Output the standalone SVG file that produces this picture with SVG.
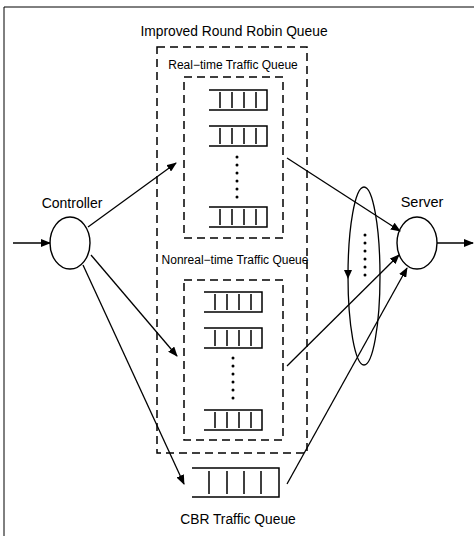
<svg xmlns="http://www.w3.org/2000/svg" width="474" height="536" viewBox="0 0 474 536">
<style>
text{font-family:"Liberation Sans",Arial,sans-serif;fill:#000}
.dash{fill:none;stroke:#000;stroke-width:1.5;stroke-dasharray:8 5}
.q{fill:none;stroke:#000;stroke-width:1.5}
.dot{fill:#000}
.c{fill:#fff;stroke:#000;stroke-width:1.4}
.ln{fill:none;stroke:#000;stroke-width:1.3;marker-end:url(#ah)}
</style>
<defs>
<marker id="ah" markerWidth="10" markerHeight="8" refX="9" refY="4" orient="auto" markerUnits="userSpaceOnUse">
<path d="M0,0 L10,4 L0,8 Z" fill="#000"/>
</marker>
<g id="q4">
<path class="q" d="M0,0 H58 V20 H0"/>
<path class="q" d="M11,2 V18 M23,2 V18 M35,2 V18 M47,2 V18"/>
</g>
<g id="dots">
<circle class="dot" cx="0" cy="0" r="1.5"/>
<circle class="dot" cx="0" cy="8" r="1.5"/>
<circle class="dot" cx="0" cy="16" r="1.5"/>
<circle class="dot" cx="0" cy="24" r="1.5"/>
<circle class="dot" cx="0" cy="32" r="1.5"/>
<circle class="dot" cx="0" cy="40" r="1.5"/>
</g>
</defs>
<rect width="474" height="536" fill="#fff"/>
<path d="M4,540 V7 H480" fill="none" stroke="#000" stroke-width="1"/>

<g id="improved-rr">
<rect class="dash" x="157" y="47" width="150" height="406"/>
<text x="234" y="36" font-size="13.8" text-anchor="middle">Improved Round Robin Queue</text>
</g>

<g id="realtime">
<text x="233" y="69" font-size="12" text-anchor="middle">Real−time Traffic Queue</text>
<rect class="dash" x="184" y="77" width="99" height="161"/>
<use href="#q4" x="209" y="90"/>
<use href="#q4" x="209" y="126"/>
<use href="#dots" x="237" y="157"/>
<use href="#q4" x="209" y="207"/>
</g>

<g id="nonrealtime">
<text x="235" y="264" font-size="12" text-anchor="middle">Nonreal−time Traffic Queue</text>
<rect class="dash" x="184" y="280" width="99" height="160"/>
<use href="#q4" x="204" y="292"/>
<use href="#q4" x="204" y="328"/>
<use href="#dots" x="233" y="358"/>
<use href="#q4" x="204" y="410"/>
</g>

<g id="cbr">
<path class="q" d="M192,468 H279 V497 H192"/>
<path class="q" d="M209,471 V494 M227,471 V494 M244,471 V494 M261,471 V494"/>
<text x="238" y="524" font-size="13.8" text-anchor="middle">CBR Traffic Queue</text>
</g>

<g id="controller">
<ellipse class="c" cx="70" cy="243" rx="20" ry="26"/>
<text x="72" y="208" font-size="14" text-anchor="middle">Controller</text>
</g>

<g id="server">
<ellipse class="c" cx="417" cy="243" rx="20" ry="26"/>
<text x="422" y="207" font-size="14.5" text-anchor="middle">Server</text>
</g>

<g id="selector">
<ellipse cx="364" cy="276" rx="16" ry="89" fill="none" stroke="#000" stroke-width="1.3"/>
<path d="M344,270 L348,279 L352,270 Z" fill="#000"/>
<use href="#dots" x="365" y="235"/>
</g>

<g id="connectors">
<line class="ln" x1="13" y1="243" x2="50" y2="243"/>
<line class="ln" x1="437" y1="243" x2="473" y2="243"/>
<line class="ln" x1="88" y1="227" x2="176" y2="163"/>
<line class="ln" x1="91" y1="255" x2="177" y2="356"/>
<line class="ln" x1="83" y1="265" x2="184" y2="484"/>
<line class="ln" x1="287" y1="158" x2="400" y2="231"/>
<line class="ln" x1="287" y1="366" x2="399" y2="255"/>
<line class="ln" x1="287" y1="484" x2="407" y2="268"/>
</g>
</svg>
